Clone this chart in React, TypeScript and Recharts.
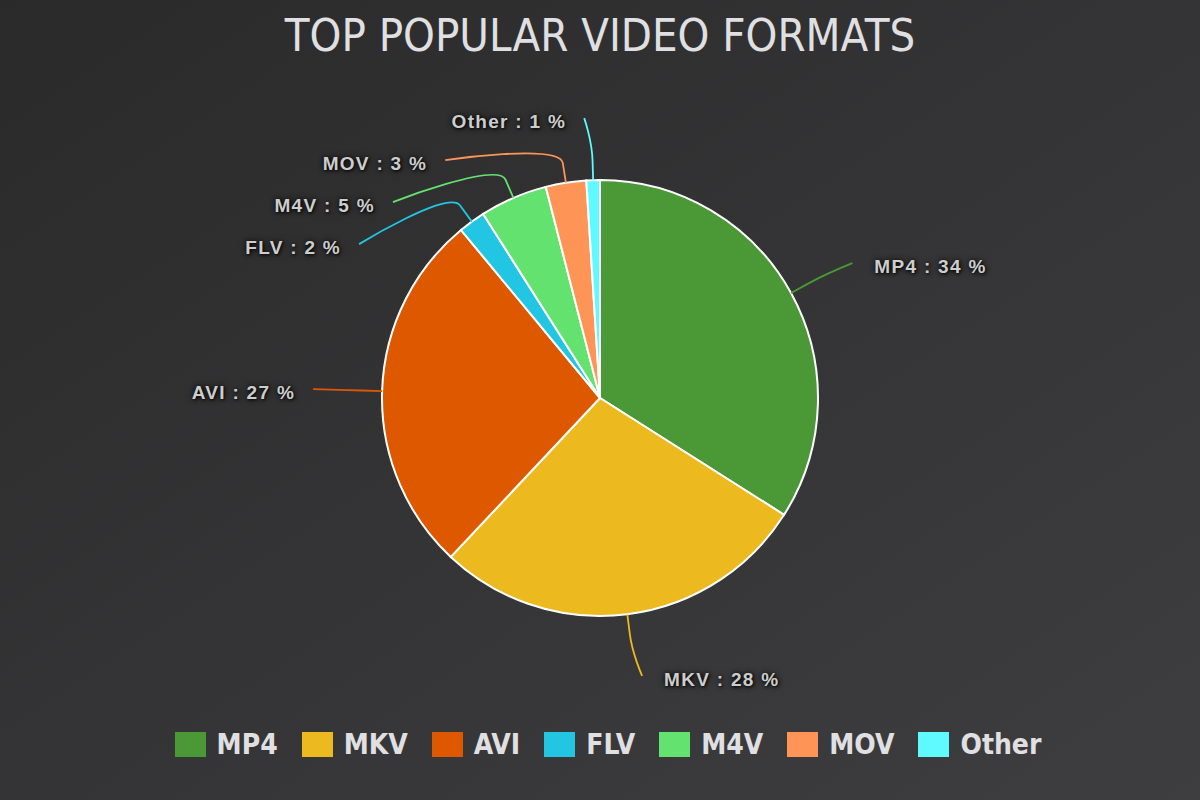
import { Cell, Legend, Pie, PieChart } from "recharts";

const FORMATS = ["MP4", "MKV", "AVI", "FLV", "M4V", "MOV", "Other"];
const SHARES = [34, 28, 27, 2, 5, 3, 1];
const COLORS = ["#4a9836", "#ecb91e", "#de5800", "#22c6e2", "#63e270", "#ff9457", "#5efaff"];

const W = 1200, H = 800;
const CX = 600, CY = 398, R = 218;
const LABEL_R = R + 62;   // where connectors end
const BREAK_R = R + 20;   // connector bend just outside the pie
const LABEL_GAP = 42;     // min vertical spacing between labels on one side

const data = FORMATS.map((name, i) => ({ name, value: SHARES[i] }));
const total = SHARES.reduce((s, v) => s + v, 0);

// spread labels on each side so they don't overlap, then put them back on the circle
const layout = (() => {
  let acc = 0;
  const items = data.map((d, i) => {
    const mid = 90 - (360 * (acc + d.value / 2)) / total;
    acc += d.value;
    const rad = (mid * Math.PI) / 180;
    return { i, rad, left: Math.cos(rad) < 0, y: CY - LABEL_R * Math.sin(rad), x: 0 };
  });
  [true, false].forEach(side => {
    const group = items.filter(p => p.left === side).sort((a, b) => a.y - b.y);
    let prev = CY - LABEL_R - LABEL_GAP;
    group.forEach(p => { p.y = Math.max(p.y, prev + LABEL_GAP); prev = p.y; });
  });
  items.forEach(p => {
    const dy = Math.min(Math.abs(p.y - CY), LABEL_R);
    const dx = Math.sqrt(LABEL_R * LABEL_R - dy * dy) + 7;
    p.x = CX + (p.left ? -dx : dx);
  });
  return items;
})();

const renderLabel = (props: any) => {
  const { index, cx, cy, outerRadius, name, value } = props;
  const p = layout[index];
  const cos = Math.cos(p.rad), sin = Math.sin(p.rad);
  const ex = cx + outerRadius * cos, ey = cy - outerRadius * sin;
  const bx = cx + BREAK_R * cos, by = cy - BREAK_R * sin;
  const d = `M ${p.x} ${p.y} C ${p.x} ${p.y} ${2 * bx - ex} ${2 * by - ey} ${bx} ${by} L ${ex} ${ey}`;
  const pct = Math.round((value / total) * 100);
  return (
    <g key={`lbl-${index}`}>
      <path d={d} fill="none" stroke={COLORS[index]} strokeWidth={1.8} />
      <text
        x={p.x + (p.left ? -18 : 22)}
        y={p.y + 10}
        textAnchor={p.left ? "end" : "start"}
        fill="#cdcdcd"
        style={{
          font: "bold 19px 'Liberation Sans', Arial, sans-serif",
          letterSpacing: "1.3px",
          textShadow: "0 0 6px rgba(0,0,0,0.95), 1px 1px 3px rgba(0,0,0,0.8)"
        }}
      >
        {`${name} : ${pct} %`}
      </text>
    </g>
  );
};

const LegendContent = () => (
  <div style={{ display: "flex", justifyContent: "center", alignItems: "center", gap: 24, paddingLeft: 16 }}>
    {FORMATS.map((name, i) => (
      <div key={name} style={{ display: "flex", alignItems: "center" }}>
        <span style={{ display: "inline-block", width: 31, height: 25, background: COLORS[i], marginRight: 11 }} />
        <span style={{
          font: "bold 28px 'DejaVu Sans Condensed', 'DejaVu Sans', sans-serif",
          fontStretch: "condensed", color: "#e0e0e3", lineHeight: "25px"
        }}>{name}</span>
      </div>
    ))}
  </div>
);

export default function App() {
  return (
    <div style={{
      position: "fixed", left: 0, top: 0, width: W, height: H,
      background: "linear-gradient(to bottom right, #2a2a2b, #3e3e40)"
    }}>
      <div style={{
        position: "absolute", top: 13, left: 0, width: W, textAlign: "center",
        font: "45px 'DejaVu Sans Condensed', 'DejaVu Sans', sans-serif",
        fontStretch: "condensed", lineHeight: "45px", color: "#e0e0e3"
      }}>
        TOP POPULAR VIDEO FORMATS
      </div>
      <PieChart
        width={W}
        height={H}
        margin={{ top: 0, right: 0, bottom: 0, left: 0 }}
        style={{ position: "absolute", left: 0, top: 0 }}
      >
        <Pie
          data={data}
          dataKey="value"
          nameKey="name"
          cx={CX}
          cy={CY}
          outerRadius={R}
          startAngle={90}
          endAngle={-270}
          stroke="#ffffff"
          strokeWidth={2}
          label={renderLabel}
          labelLine={false}
          isAnimationActive={false}
        >
          {data.map((d, i) => <Cell key={d.name} fill={COLORS[i]} />)}
        </Pie>
        <Legend
          content={<LegendContent />}
          wrapperStyle={{ position: "absolute", top: 732, left: 0, width: W, bottom: "auto" }}
        />
      </PieChart>
    </div>
  );
}
